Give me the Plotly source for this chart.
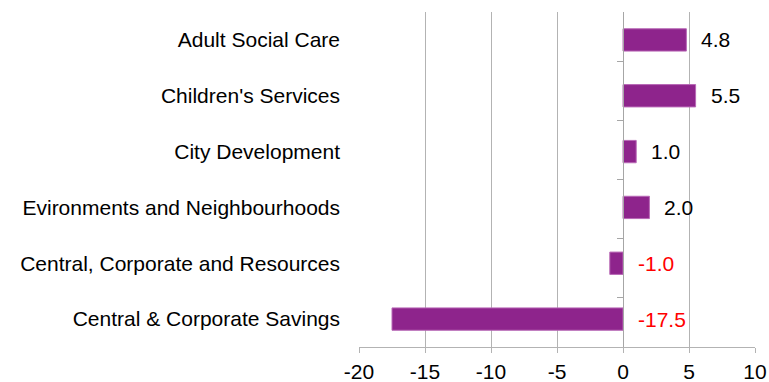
import plotly.graph_objects as go

categories = ["Adult Social Care", "Children's Services", "City Development",
              "Evironments and Neighbourhoods", "Central, Corporate and Resources",
              "Central & Corporate Savings"]
values = [4.8, 5.5, 1.0, 2.0, -1.0, -17.5]
x_ticks = [-20, -15, -10, -5, 0, 5, 10]
x_range = [-20, 10]

FONT = "Liberation Sans, Arial, sans-serif"
GRID = "#B3B3B3"
AXIS = "#A6A6A6"

fig = go.Figure()
fig.add_trace(go.Bar(
    x=values, y=categories, orientation="h",
    marker=dict(color="#8E248C", line=dict(color="#B868B6", width=1)),
    hoverinfo="skip", showlegend=False,
))
# invisible helper trace so the axis drawn at zero gets category boundary ticks
fig.add_trace(go.Scatter(
    x=[0] * len(categories), y=categories, yaxis="y2", mode="markers",
    marker=dict(opacity=0), hoverinfo="skip", showlegend=False,
))

for c, v in zip(categories, values):
    fig.add_annotation(
        x=max(v, 0), y=c, text=f"{v:.1f}", showarrow=False,
        xanchor="left", xshift=13, yanchor="middle",
        font=dict(family=FONT, size=21, color="#FF0000" if v < 0 else "#000000"),
    )

zero_pos = (0 - x_range[0]) / (x_range[1] - x_range[0])

fig.update_layout(
    width=769, height=382,
    margin=dict(l=359, r=14, t=12, b=35),
    paper_bgcolor="white", plot_bgcolor="white",
    bargap=0.6,
    font=dict(family=FONT, size=21, color="#000000"),
    xaxis=dict(
        range=x_range, tickvals=x_ticks, ticktext=[str(t) for t in x_ticks],
        showgrid=True, gridcolor=GRID, gridwidth=1,
        zeroline=False, showline=True, linecolor=GRID, linewidth=1,
        ticks="outside", ticklen=5, tickcolor=GRID, ticklabelstandoff=1,
        tickfont=dict(family=FONT, size=21), fixedrange=True, automargin=False,
    ),
    yaxis=dict(
        categoryorder="array", categoryarray=categories, autorange="reversed",
        showgrid=False, zeroline=False, showline=False, ticks="",
        ticklabelstandoff=18, tickfont=dict(family=FONT, size=21), fixedrange=True,
        automargin=False,
    ),
    yaxis2=dict(
        overlaying="y", anchor="free", position=zero_pos, side="left",
        categoryorder="array", categoryarray=categories, autorange="reversed",
        showgrid=False, zeroline=False, showline=True, linecolor=AXIS, linewidth=1,
        ticks="outside", tickson="boundaries", ticklen=6, tickcolor=AXIS,
        showticklabels=False, fixedrange=True, automargin=False, layer="above traces",
    ),
)

fig.write_html("out.html")
